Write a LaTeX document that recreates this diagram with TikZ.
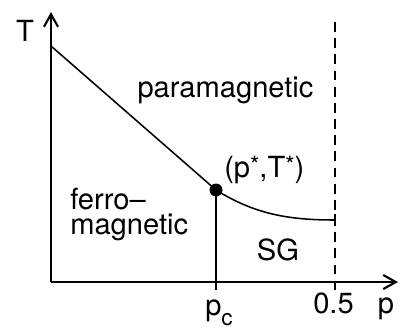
\documentclass[tikz,border=0pt]{standalone}
\usepackage{fontspec}
\setmainfont{TeX Gyre Heros}
\usetikzlibrary{arrows.meta}
\begin{document}
\begin{tikzpicture}[x=0.025cm, y=0.025cm, >={Straight Barb[length=9pt,width=10pt]},
    font=\fontsize{20.7}{17.7}\selectfont,
    lbl/.style={inner sep=0pt},
    axis/.style={line width=1.5pt},
    phase/.style={line width=1.1pt}]
    \useasboundingbox (-51,-49) rectangle (349,282);

    % 軸
    \coordinate (O) at (0,0);
    \coordinate (Ttop) at (0,270);
    \coordinate (pend) at (347,0);
    \draw[axis, ->] (O) -- (Ttop);
    \draw[axis, ->] (O) -- (pend);
    \node[lbl, anchor=base] (Tlab) at (-26,241) {T};
    \node[lbl, anchor=base] (plab) at (335,-31) {p};

    % 相境界
    \coordinate (Tc) at (0,236);
    \coordinate (pstar) at (165,92);
    \coordinate (sgend) at (284,62);
    \draw[phase] (Tc) -- (pstar);
    \draw[phase] (pstar) .. controls (205,67) and (240,62) .. (sgend);
    \draw[phase] (284,56) -- (284,68);
    \fill (pstar) circle (6.5);

    % p_c と 0.5
    \coordinate (pc) at (165,-8);
    \coordinate (half) at (284,-8);
    \coordinate (halftop) at (284,260);
    \draw[phase] (pstar) -- (pc);
    \draw[phase, dash pattern=on 7pt off 4.5pt] (halftop) -- (half);
    \draw[phase] (284,0) -- (half);
    \node[lbl, anchor=base west] (pclab) at (154,-33) {p\raisebox{-0.35em}{\fontsize{16}{16}\selectfont c}};
    \node[lbl, anchor=base east] (halflab) at (303,-31) {0.5};

    % 相の名前
    \node[lbl, anchor=base] (para) at (174.5,185) {paramagnetic};
    \node[lbl, anchor=base west] (pslab) at (173,105) {(p\raisebox{0.12em}{\fontsize{17}{17}\selectfont *},T\raisebox{0.12em}{\fontsize{17}{17}\selectfont *})};
    \node[lbl, align=left, anchor=north west] (ferro) at (19,94) {ferro–\\magnetic};
    \node[lbl, anchor=base] (sg) at (227,22) {SG};
\end{tikzpicture}
\end{document}
